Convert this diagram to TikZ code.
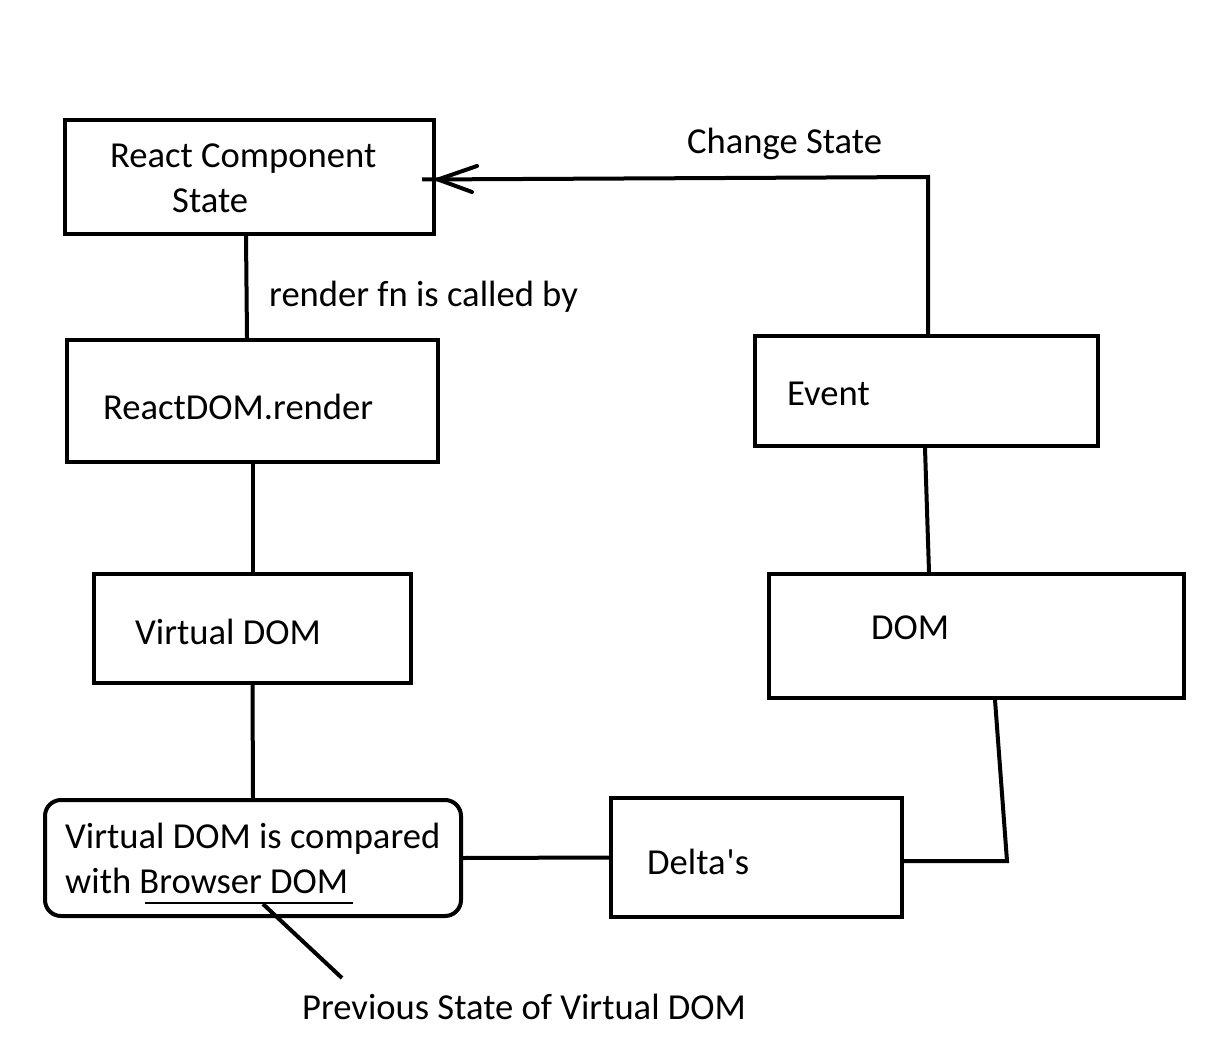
\documentclass[tikz,border=0pt]{standalone}
\usepackage{fontspec}
\setmainfont{Carlito}
\begin{document}
\begin{tikzpicture}[x=1pt,y=-1pt,
  box/.style={draw=black,line width=4pt,rectangle,inner sep=0pt},
  rbox/.style={box,rounded corners=16pt},
  lbl/.style={anchor=base west,inner sep=0pt,font=\fontsize{36.6}{45}\selectfont},
  conn/.style={line width=4pt,draw=black}]
\useasboundingbox (0,0) rectangle (1225,1048);
% boxes
\node[box,minimum width=369pt,minimum height=114pt] (b1) at (249.5,177) {};
\node[box,minimum width=371pt,minimum height=122pt] (b2) at (252.5,401) {};
\node[box,minimum width=317pt,minimum height=109pt] (b3) at (252.5,628.5) {};
\node[rbox,minimum width=416pt,minimum height=116pt] (b4) at (253,858) {};
\node[box,minimum width=291pt,minimum height=119pt] (b5) at (756.5,857.5) {};
\node[box,minimum width=415pt,minimum height=124pt] (b6) at (976.5,636) {};
\node[box,minimum width=343pt,minimum height=110pt] (b7) at (926.5,391) {};
% labels
\node[lbl] (t1a) at (110,168) {React Component};
\node[lbl] (t1b) at (172,213) {State};
\node[lbl] (t2) at (103,419) {ReactDOM.render};
\node[lbl] (t3) at (135,644) {Virtual DOM};
\node[lbl] (t4a) at (65,848) {Virtual DOM is compared};
\node[lbl] (t4b) at (65,893) {with Browser DOM};
\node[lbl] (t5) at (647,874) {Delta\hspace{1pt}\textquotesingle s};
\node[lbl] (t6) at (871,639) {DOM};
\node[lbl] (t7) at (787,405) {Event};
\node[lbl] (trender) at (269,307) {render fn is called by};
\node[lbl] (tchange) at (687,154) {Change State};
\node[lbl] (tprev) at (302,1019) {Previous State of Virtual DOM};
% connectors
\draw[conn] ([xshift=-3.5pt]b1.south) -- ([xshift=-5.5pt]b2.north);
\draw[conn] (b2.south) -- (b3.north);
\draw[conn] (b3.south) -- (b4.north);
\draw[conn] (b4.east) -- (b5.west);
\coordinate (c1) at (1007,861);
\draw[conn] ([yshift=-3.5pt]b5.east) -- (c1) -- ([xshift=18.5pt]b6.south);
\draw[conn] ([xshift=-1.5pt]b7.south) -- ([xshift=-47.5pt]b6.north);
\coordinate (c2) at (928,177);
\coordinate (tip) at (438,179.5);
\coordinate (stub) at (422,179.5);
\coordinate (barbA) at (477,166);
\coordinate (barbB) at (472,192);
\draw[conn] ([xshift=1.5pt]b7.north) -- (c2) -- (stub);
\draw[conn,line cap=round,line join=round] (barbA) -- (tip) -- (barbB);
% underline and pointer
\coordinate (u1) at (145,903);
\coordinate (u2) at (353,903);
\draw[line width=1.3pt] (u1) -- (u2);
\coordinate (p1) at (263,904);
\coordinate (p2) at (342,978);
\draw[conn] (p1) -- (p2);
\end{tikzpicture}
\end{document}
